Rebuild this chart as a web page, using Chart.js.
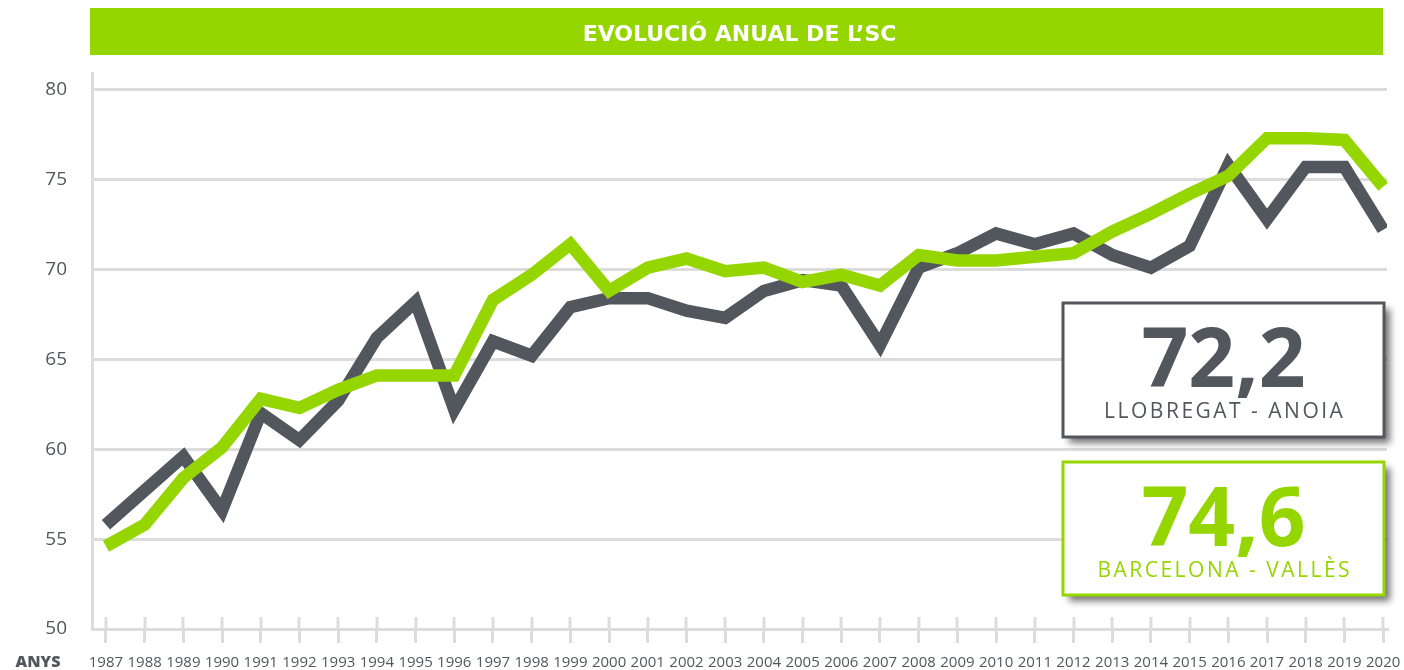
<!DOCTYPE html>
<html><head><meta charset="utf-8">
<script src="https://cdn.jsdelivr.net/npm/chart.js@4.4.1/dist/chart.umd.min.js"></script>
<style>html,body{margin:0;padding:0;background:#fff;}#wrap{width:1404px;height:670px;position:relative;}canvas{display:block;}</style>
</head><body><div id="wrap"><canvas id="c" width="1404" height="670"></canvas></div>
<script>
const years = [1987,1988,1989,1990,1991,1992,1993,1994,1995,1996,1997,1998,1999,2000,2001,2002,2003,2004,2005,2006,2007,2008,2009,2010,2011,2012,2013,2014,2015,2016,2017,2018,2019,2020];
const llobregatAnoia = [55.8,57.7,59.6,56.6,62.0,60.5,62.7,66.2,68.2,62.2,66.0,65.2,67.9,68.4,68.4,67.7,67.3,68.8,69.4,69.1,65.8,70.1,70.9,72.0,71.4,72.0,70.8,70.1,71.3,75.8,72.8,75.7,75.7,72.2];
const barcelonaValles = [54.6,55.8,58.4,60.1,62.8,62.3,63.3,64.1,64.1,64.1,68.3,69.7,71.4,68.8,70.1,70.6,69.9,70.1,69.3,69.7,69.1,70.8,70.5,70.5,70.7,70.9,72.1,73.1,74.2,75.2,77.3,77.3,77.2,74.6];
const seriesNames = ['LLOBREGAT - ANOIA', 'BARCELONA - VALLÈS'];
const titleText = 'EVOLUCIÓ ANUAL DE L’SC';
const axisName = 'ANYS';
const yTickStep = 5;

const GRAY = '#52575d';
const GREEN = '#95d600';
const GRID = '#dcdcdc';
const FONT = '"Open Sans", "DejaVu Sans", sans-serif';
const WIDE = '"DejaVu Sans", "Open Sans", sans-serif';

const fmt = v => v.toFixed(1).replace('.', ',');

const decor = {
  id: 'decor',
  beforeDraw(chart) {
    const ctx = chart.ctx, a = chart.chartArea;
    ctx.save();
    ctx.fillStyle = GREEN;
    ctx.fillRect(a.left - 2, 8, a.right - a.left - 2, 47);
    ctx.restore();
  },
  afterDraw(chart) {
    const ctx = chart.ctx, a = chart.chartArea, xs = chart.scales.x;
    ctx.save();
    ctx.strokeStyle = GRID; ctx.lineWidth = 3;
    xs.ticks.forEach(t => {
      const px = Math.round(xs.getPixelForValue(t.value));
      ctx.beginPath(); ctx.moveTo(px, a.bottom - 12); ctx.lineTo(px, a.bottom); ctx.stroke();
    });
    ctx.restore();
    ctx.save();
    ctx.fillStyle = GRAY; ctx.font = '800 16px ' + FONT; ctx.textAlign = 'center'; ctx.textBaseline = 'middle';
    ctx.fillText(axisName, 38, 662);
    ctx.restore();
    drawBox(ctx, 1063, 303, 321, 134, GRAY, fmt(llobregatAnoia[llobregatAnoia.length - 1]), seriesNames[0]);
    drawBox(ctx, 1063, 462, 321, 133, GREEN, fmt(barcelonaValles[barcelonaValles.length - 1]), seriesNames[1]);
  }
};

function drawBox(ctx, x, y, w, h, color, value, name) {
  ctx.save();
  ctx.shadowColor = 'rgba(0,0,0,0.55)'; ctx.shadowBlur = 7; ctx.shadowOffsetX = 6; ctx.shadowOffsetY = 6;
  ctx.fillStyle = '#fff'; ctx.fillRect(x, y, w, h);
  ctx.restore();
  ctx.save();
  ctx.strokeStyle = color; ctx.lineWidth = 3; ctx.strokeRect(x, y, w, h);
  ctx.fillStyle = color; ctx.textAlign = 'center'; ctx.textBaseline = 'alphabetic';
  ctx.font = 'bold 82px ' + FONT;
  ctx.fillText(value, x + w / 2, y + 84);
  ctx.font = '21px ' + FONT;
  ctx.letterSpacing = '2.5px';
  ctx.fillText(name, x + w / 2 + 1.25, y + 115);
  ctx.restore();
}

new Chart(document.getElementById('c'), {
  type: 'line',
  data: {
    datasets: [
      { label: seriesNames[1], data: years.map((y, i) => ({x: y, y: barcelonaValles[i]})),
        borderColor: GREEN, borderWidth: 12.5, pointRadius: 0, tension: 0, borderJoinStyle: 'miter', borderCapStyle: 'butt', order: 0 },
      { label: seriesNames[0], data: years.map((y, i) => ({x: y, y: llobregatAnoia[i]})),
        borderColor: GRAY, borderWidth: 12.5, pointRadius: 0, tension: 0, borderJoinStyle: 'miter', borderCapStyle: 'butt', order: 1 }
    ]
  },
  options: {
    responsive: false, animation: false, devicePixelRatio: 1,
    layout: { padding: { left: 0, right: 17, top: 8, bottom: 0 } },
    plugins: {
      legend: { display: false }, tooltip: { enabled: false },
      title: { display: true, text: titleText, color: '#ffffff', fullSize: false,
        font: { family: WIDE, size: 22, weight: 'bold' }, padding: { top: 14, bottom: 25 } }
    },
    scales: {
      x: {
        type: 'linear', min: 1986.64, max: 2020.1,
        afterFit: s => { s.height = 41; s.paddingLeft = 0; s.paddingRight = 0; },
        grid: { display: true, drawOnChartArea: false, drawTicks: true, tickLength: 14, color: GRID, lineWidth: 3 },
        border: { display: true, color: GRID, width: 3 },
        ticks: { stepSize: 1, includeBounds: false, autoSkip: false, maxRotation: 0, padding: 11, color: GRAY,
          font: { family: FONT, size: 15 }, callback: v => String(v) }
      },
      y: {
        min: 50, max: 80.9,
        afterFit: s => { s.width = 92; s.paddingTop = 0; s.paddingBottom = 0; },
        grid: { color: GRID, lineWidth: 3, drawTicks: false },
        border: { display: true, color: GRID, width: 3 },
        ticks: { stepSize: yTickStep, includeBounds: false, padding: 25, color: GRAY, font: { family: FONT, size: 19 } }
      }
    }
  },
  plugins: [decor]
});
</script></body></html>
